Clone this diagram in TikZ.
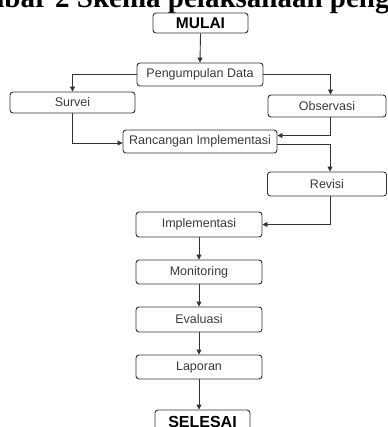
\documentclass[tikz,border=0pt]{standalone}
\usepackage{fontspec}
\setmainfont{Liberation Serif}
\setsansfont{Liberation Sans}
\usetikzlibrary{arrows.meta}
\definecolor{linec}{HTML}{333333}
\definecolor{textc}{HTML}{3A3A3A}
\begin{document}
\begin{tikzpicture}[x=1pt,y=-1pt,
  box/.style={draw=linec,line width=0.9pt,rounded corners=3pt,fill=white,inner sep=0pt,
    font=\sffamily\fontsize{12.5}{14}\selectfont,text=textc},
  term/.style={box,font=\sffamily\bfseries\fontsize{15.5}{17}\selectfont,text=black},
  arr/.style={draw=linec,line width=0.9pt,-{Triangle[length=5pt,width=5pt]}}]
\useasboundingbox (0,0) rectangle (387,427);
\clip (0,0) rectangle (387,427);
\node[anchor=base west,inner sep=0pt,font=\bfseries\fontsize{29}{29}\selectfont] (title) at (-57,7.5) {Gambar 2 Skema pelaksanaan pengabdian};
\node[term,minimum width=95pt,minimum height=20pt] (mulai) at (200.5,23) {MULAI};
\node[box,minimum width=126pt,minimum height=23pt] (peng) at (200,74.5) {Pengumpulan Data};
\node[box,minimum width=125pt,minimum height=21pt] (survei) at (72.5,102.5) {Survei};
\node[box,minimum width=118pt,minimum height=22pt] (obs) at (327,106) {Observasi};
\node[box,minimum width=154pt,minimum height=23pt] (ranc) at (200,141.5) {Rancangan Implementasi};
\node[box,minimum width=119pt,minimum height=24pt] (rev) at (327,184) {Revisi};
\node[box,minimum width=126pt,minimum height=25pt] (impl) at (199,224.5) {Implementasi};
\node[box,minimum width=126pt,minimum height=24pt] (mon) at (199,272) {Monitoring};
\node[box,minimum width=126pt,minimum height=25pt] (eval) at (199,319.5) {Evaluasi};
\node[box,minimum width=126pt,minimum height=24pt] (lap) at (199,367) {Laporan};
\node[term,minimum width=95pt,minimum height=24pt,font=\sffamily\bfseries\fontsize{16}{18}\selectfont] (sel) at (202.5,422) {SELESAI};
\draw[arr] (mulai.south) -- (peng.north);
\draw[arr] (peng.west) -| (survei.north);
\draw[arr] (peng.east) -| ([xshift=3.5pt]obs.north);
\draw[arr] (survei.south) |- ([yshift=-1.5pt]ranc.west);
\draw[arr] ([xshift=3.5pt]obs.south) |- ([yshift=6pt]ranc.east);
\draw[arr] ([yshift=-2.5pt]ranc.east) -| ([xshift=3pt]rev.north);
\draw[arr] ([xshift=3pt]rev.south) |- (impl.east);
\draw[arr] (impl.south) -- (mon.north);
\draw[arr] (mon.south) -- (eval.north);
\draw[arr] (eval.south) -- (lap.north);
\draw[arr] (lap.south) -- (lap.south |- sel.north);
\end{tikzpicture}
\end{document}
